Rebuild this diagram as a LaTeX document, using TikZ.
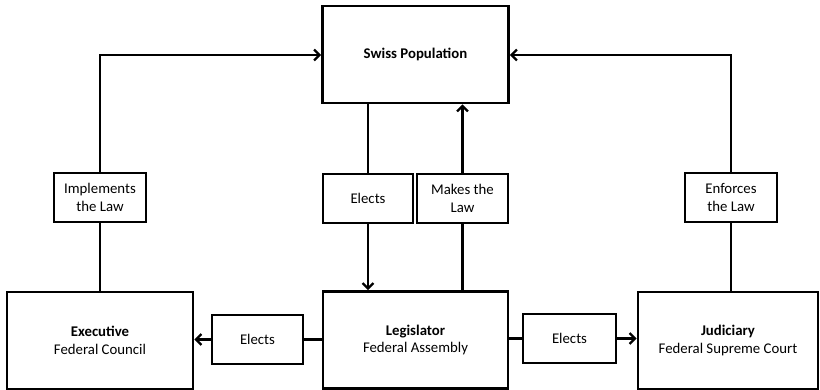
\documentclass[tikz,border=0pt]{standalone}
\usepackage{fontspec}
\setmainfont{Carlito}
\usetikzlibrary{arrows.meta}
\begin{document}
\begin{tikzpicture}[x=1pt,y=-1pt,
  bigbox/.style={draw,line width=2.8pt,minimum width=186pt,minimum height=97pt,align=center,inner sep=0pt,font=\fontsize{14.8}{17.8}\selectfont},
  labbox/.style={draw,line width=2.8pt,minimum width=91pt,minimum height=49pt,align=center,inner sep=0pt,font=\fontsize{14.8}{17.8}\selectfont},
  conn/.style={line width=2.6pt},
  arr/.style={conn,-{Straight Barb[length=5.5pt,width=11pt,line width=2.2pt]}}]
\useasboundingbox (0,0) rectangle (820,390);
\node[bigbox] (pop) at (415.5,54.5) {\textbf{Swiss Population}};
\node[bigbox,minimum width=185pt] (leg) at (415.5,340) {\textbf{Legislator}\\Federal Assembly};
\node[bigbox] (exe) at (100,340.5) {\textbf{Executive}\\Federal Council};
\node[bigbox,minimum width=180pt] (jud) at (728,340.5) {\textbf{Judiciary}\\Federal Supreme Court};
\node[labbox,minimum width=92pt] (impl) at (100,197.5) {Implements\\the Law};
\node[labbox,minimum width=90pt] (elm) at (368,198.5) {Elects};
\node[labbox] (make) at (462.5,198.5) {Makes the\\Law};
\node[labbox,minimum width=92pt] (enf) at (731,197.5) {Enforces\\the Law};
\node[labbox] (ell) at (257.5,339.5) {Elects};
\node[labbox,minimum width=93pt] (elr) at (569.5,338.5) {Elects};
\coordinate (tl) at (100,55);
\coordinate (tr) at (731,55);
% left top path
\draw[conn] (exe.north) -- (impl.south);
\draw[arr] (impl.north) -- (tl) -- (pop.west |- tl);
% right top path
\draw[conn] (jud.north -| enf) -- (enf.south);
\draw[arr] (enf.north) -- (tr) -- (pop.east |- tr);
% elects middle
\draw[conn] (pop.south -| elm) -- (elm.north);
\draw[arr] (elm.south) -- (leg.north -| elm);
% makes the law
\draw[conn] (leg.north -| make) -- (make.south);
\draw[arr] (make.north) -- (pop.south -| make);
% elects left
\draw[conn] (leg.west |- ell) -- (ell.east);
\draw[arr] (ell.west) -- (exe.east |- ell);
% elects right
\draw[conn] (leg.east |- elr) -- (elr.west);
\draw[arr] (elr.east) -- (jud.west |- elr);
\end{tikzpicture}
\end{document}
